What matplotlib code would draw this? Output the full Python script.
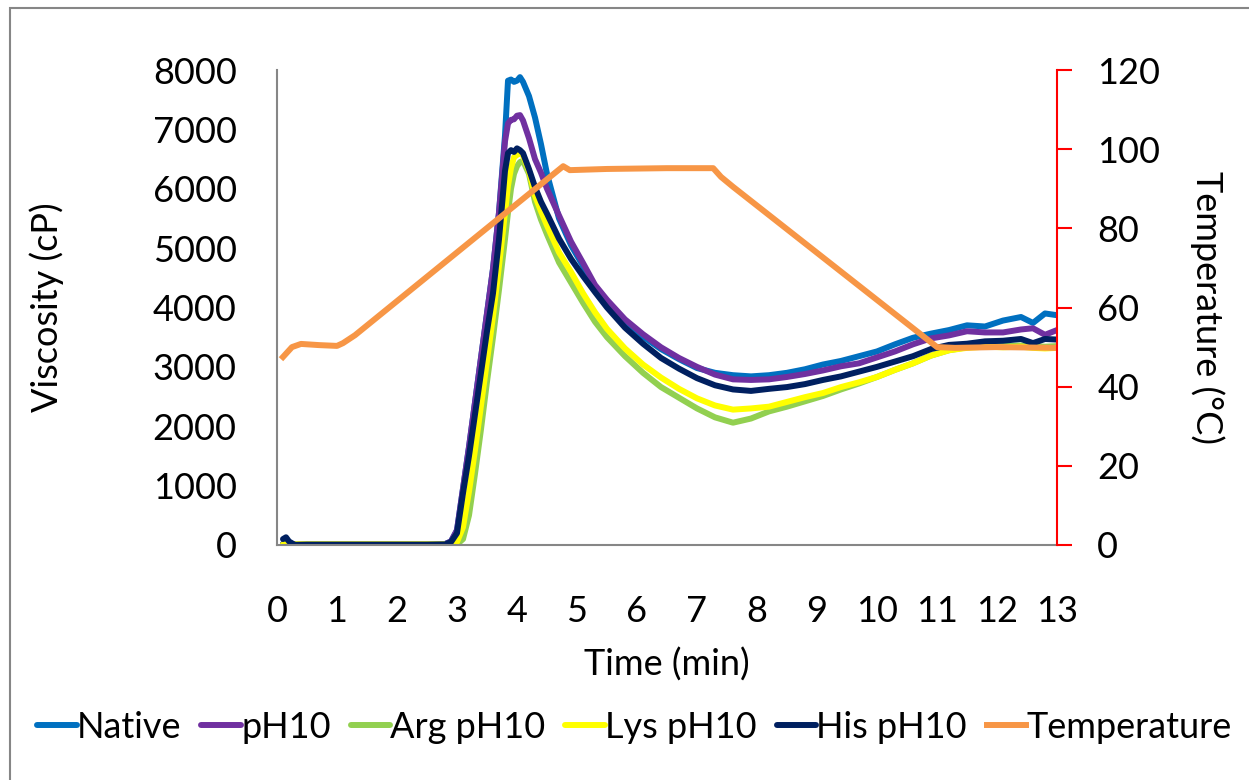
import matplotlib.pyplot as plt
from matplotlib.patches import Rectangle

plt.rcParams['font.family'] = ['Lato', 'DejaVu Sans']

# time grid (min) shared by the viscosity curves
t = [0.1, 0.15, 0.2, 0.3, 0.5, 1.0, 1.5, 2.0, 2.5, 2.8, 2.9, 3.0, 3.1, 3.2, 3.3,
     3.4, 3.5, 3.6, 3.7, 3.8, 3.85, 3.9, 3.95, 4.0, 4.05, 4.1, 4.2, 4.3, 4.4, 4.5,
     4.7, 4.9, 5.1, 5.3, 5.5, 5.8, 6.1, 6.4, 6.7, 7.0, 7.3, 7.6, 7.9, 8.2, 8.5,
     8.8, 9.1, 9.4, 9.7, 10.0, 10.3, 10.6, 10.9, 11.2, 11.5, 11.8, 12.1, 12.4,
     12.6, 12.8, 13.0]

native = [20, 20, 15, 10, 10, 10, 10, 10, 10, 15, 60, 250, 950, 1650, 2400,
          3150, 3900, 4650, 5600, 6900, 7820, 7840, 7800, 7820, 7880, 7800, 7560, 7200, 6750, 6250,
          5500, 5050, 4700, 4340, 4080, 3770, 3510, 3300, 3130, 2980, 2900, 2860, 2840, 2860, 2900,
          2960, 3040, 3100, 3180, 3260, 3380, 3490, 3560, 3620, 3700, 3680, 3780, 3840,
          3740, 3900, 3870]

ph10 = [20, 20, 15, 10, 10, 10, 10, 10, 10, 15, 60, 250, 950, 1650, 2400,
        3150, 3900, 4650, 5600, 6800, 7100, 7160, 7170, 7230, 7240, 7150, 6850, 6500, 6270, 6000,
        5550, 5110, 4750, 4380, 4130, 3800, 3550, 3330, 3150, 3000, 2870, 2790, 2780, 2790, 2830,
        2880, 2940, 3010, 3060, 3160, 3260, 3380, 3480, 3530, 3600, 3580, 3580, 3630,
        3650, 3540, 3620]

arg_ph10 = [10, 10, 10, 10, 10, 10, 10, 10, 10, 10, 10, 10, 100, 500, 1200,
            1950, 2750, 3500, 4300, 5150, 5600, 6000, 6250, 6380, 6450, 6470, 6250, 5780, 5480, 5230,
            4760, 4420, 4080, 3760, 3500, 3180, 2900, 2660, 2480, 2300, 2150, 2060, 2130, 2250, 2330,
            2420, 2510, 2620, 2720, 2830, 2950, 3060, 3190, 3280, 3330, 3350, 3350, 3360,
            3350, 3340, 3350]

lys_ph10 = [10, 10, 10, 10, 10, 10, 10, 10, 10, 10, 15, 50, 300, 900, 1600,
            2350, 3100, 3850, 4700, 5600, 6050, 6350, 6530, 6570, 6600, 6560, 6300, 5880, 5620, 5380,
            4930, 4600, 4240, 3920, 3640, 3310, 3040, 2820, 2630, 2470, 2350, 2280, 2300, 2330, 2410,
            2490, 2560, 2660, 2740, 2830, 2950, 3060, 3190, 3280, 3320, 3340, 3330, 3340,
            3320, 3310, 3320]

his_ph10 = [100, 130, 60, 0, 5, 5, 5, 5, 5, 10, 50, 200, 875, 1500, 2200,
            2900, 3600, 4240, 5150, 6300, 6600, 6650, 6620, 6680, 6650, 6600, 6330, 6030, 5780, 5580,
            5160, 4820, 4530, 4260, 4000, 3660, 3390, 3150, 2970, 2810, 2690, 2620, 2595, 2630, 2660,
            2710, 2780, 2840, 2920, 3000, 3090, 3180, 3300, 3370, 3390, 3430, 3440, 3470,
            3400, 3470, 3460]

temp_t = [0.1, 0.25, 0.4, 0.7, 1.0, 1.1, 1.3, 4.77, 4.88, 5.5, 6.5, 7.27, 7.4, 7.6,
          11.0, 11.3, 12.0, 13.0]
temp_c = [47.5, 50.0, 50.8, 50.5, 50.3, 51.0, 53.0, 95.7, 94.7, 95.0, 95.2, 95.2, 93.0, 90.5,
          50.0, 49.8, 50.0, 49.8]

series = [("Native", native, "#0070C0"),
          ("pH10", ph10, "#7030A0"),
          ("Arg pH10", arg_ph10, "#92D050"),
          ("Lys pH10", lys_ph10, "#FFFF00"),
          ("His pH10", his_ph10, "#002060")]

fig = plt.figure(figsize=(12.49, 7.8), dpi=100)
fig.patches.append(Rectangle((10 / 1249, -0.1), 1.2, (780 - 8) / 780 + 0.1,
                             transform=fig.transFigure, fill=False,
                             edgecolor="#868686", lw=1.5))

ax = fig.add_axes([277 / 1249, 235 / 780, 780 / 1249, 475 / 780])
ax2 = ax.twinx()

handles = []
for name, vals, col in series:
    h, = ax.plot(t, vals, color=col, lw=4.3, label=name, solid_capstyle="round")
    handles.append(h)
h, = ax2.plot(temp_t, temp_c, color="#F79646", lw=4.3, label="Temperature")
handles.append(h)

ax.set_xlim(0, 13)
ax.set_ylim(0, 8000)
ax2.set_ylim(0, 120)
ax.set_xticks(range(0, 14))
ax.set_yticks(range(0, 8001, 1000))
ax2.set_yticks(range(0, 121, 20))

fs = 26
ax.tick_params(axis="both", length=0, labelsize=fs)
ax.tick_params(axis="y", pad=29)
ax.tick_params(axis="x", pad=36)
ax2.tick_params(axis="y", colors="red", labelcolor="black", length=11, width=1.5,
                labelsize=fs, pad=18)

for s in ["top", "right"]:
    ax.spines[s].set_visible(False)
for s in ["top", "left", "bottom"]:
    ax2.spines[s].set_visible(False)
ax.spines["left"].set_color("#868686")
ax.spines["bottom"].set_color("#868686")
ax.spines["left"].set_linewidth(1.5)
ax.spines["bottom"].set_linewidth(1.5)
ax2.spines["right"].set_color("red")
ax2.spines["right"].set_linewidth(1.5)

ax.set_xlabel("Time (min)", fontsize=fs, labelpad=14)
ax.set_ylabel("Viscosity (cP)", fontsize=fs, labelpad=64)
ax2.set_ylabel("Temperature (°C)", fontsize=fs, rotation=270, labelpad=46)

fig.legend(handles=handles, loc="center", bbox_to_anchor=(0.508, 1 - 727 / 780),
           ncol=6, frameon=False, fontsize=26, handlelength=1.1, handletextpad=0.0,
           columnspacing=0.55)

fig.savefig("out.png", dpi=100)
